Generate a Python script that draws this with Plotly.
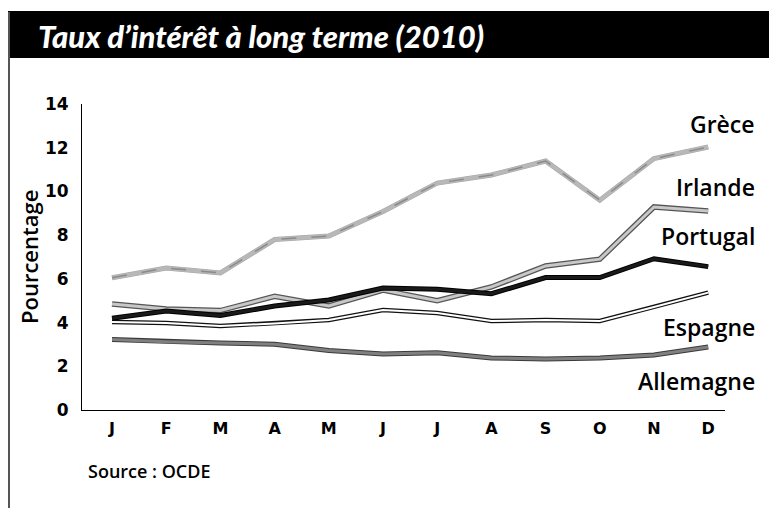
import plotly.graph_objects as go

months = ["J", "F", "M", "A", "M", "J", "J", "A", "S", "O", "N", "D"]
grece = [6.05, 6.5, 6.27, 7.8, 7.96, 9.08, 10.38, 10.75, 11.39, 9.6, 11.5, 12.03]
irlande = [4.85, 4.62, 4.55, 5.2, 4.76, 5.49, 5.0, 5.63, 6.59, 6.9, 9.29, 9.1]
portugal = [4.2, 4.53, 4.32, 4.76, 5.03, 5.58, 5.52, 5.32, 6.06, 6.06, 6.92, 6.56]
espagne = [4.03, 3.98, 3.84, 3.96, 4.12, 4.57, 4.44, 4.07, 4.12, 4.07, 4.71, 5.37]
allemagne = [3.22, 3.12, 3.06, 3.01, 2.72, 2.56, 2.62, 2.38, 2.33, 2.38, 2.52, 2.88]
yticks = [0, 2, 4, 6, 8, 10, 12, 14]

x = list(range(len(months)))

fig = go.Figure()

def add(vals, outer, inner, wo, wi, dash_overlay=None):
    fig.add_trace(go.Scatter(x=x, y=vals, mode="lines",
                             line=dict(color=outer, width=wo), hoverinfo="skip"))
    fig.add_trace(go.Scatter(x=x, y=vals, mode="lines",
                             line=dict(color=inner, width=wi), hoverinfo="skip"))
    if dash_overlay:
        fig.add_trace(go.Scatter(x=x, y=vals, mode="lines",
                                 line=dict(color=dash_overlay, width=1.5, dash="longdash"),
                                 hoverinfo="skip"))

add(allemagne, "#3a3a3a", "#808080", 5, 3)
add(espagne, "#111111", "#ffffff", 4.5, 2)
add(irlande, "#555555", "#c8c8c8", 5.5, 3)
add(portugal, "#000000", "#1a1a1a", 5, 3)
add(grece, "#a8a8a8", "#b8b8b8", 5, 4, dash_overlay="#8a8a8a")

# page offset of 8px (body margin): figure occupies page x 8..777, y 8..508
PL, PR, PT, PB = 82, 725, 104, 410
W, H = PR - PL, PB - PT

def px(xp):
    return (xp - PL) / W

def py(yp):
    return (PB - yp) / H

fig.update_layout(
    width=769, height=500,
    margin=dict(l=PL - 8, r=777 - PR, t=PT - 8, b=508 - PB),
    paper_bgcolor="white", plot_bgcolor="white",
    showlegend=False,
    xaxis=dict(range=[-0.554, 11.31], tickvals=x, ticktext=months,
               showgrid=False, zeroline=False, showline=True, linecolor="black",
               linewidth=1, ticks="", ticklabelstandoff=4,
               tickfont=dict(family="DejaVu Sans", size=16, color="black", weight="bold")),
    yaxis=dict(range=[0, 14], tickvals=yticks, showgrid=False, zeroline=False,
               showline=True, linecolor="black", linewidth=1, ticks="",
               ticklabelstandoff=9,
               tickfont=dict(family="DejaVu Sans", size=17, color="black", weight="bold")),
    shapes=[
        dict(type="rect", xref="paper", yref="paper", x0=px(7), x1=px(780),
             y0=py(11), y1=py(58), fillcolor="black", line_width=0, layer="below"),
        dict(type="line", xref="paper", yref="paper", x0=px(9), x1=px(9),
             y0=py(12), y1=py(512), line=dict(color="#555555", width=2)),
    ],
    annotations=[
        dict(text="<i>Taux d’intérêt à long terme (2010)</i>", xref="paper", yref="paper",
             x=px(36), y=py(36), xanchor="left", yanchor="middle", showarrow=False,
             font=dict(family="Lato", size=31, color="white", weight=900)),
        dict(text="Pourcentage", xref="paper", yref="paper", x=px(29), y=py(257),
             textangle=-90, xanchor="center", yanchor="middle", showarrow=False,
             font=dict(family="Open Sans", size=22, color="black", weight=600)),
        dict(text="Source : OCDE", xref="paper", yref="paper", x=px(86),
             y=py(471), xanchor="left", yanchor="middle", showarrow=False,
             font=dict(family="Open Sans", size=18, color="black", weight=600)),
    ],
)

labels = [("Grèce", 124), ("Irlande", 187), ("Portugal", 236), ("Espagne", 327), ("Allemagne", 381)]
for name, yp in labels:
    fig.add_annotation(text=name, xref="paper", yref="paper", x=px(757),
                       y=py(yp), xanchor="right", yanchor="middle", showarrow=False,
                       font=dict(family="Open Sans", size=23, color="black", weight=600))

fig.write_html("out.html")
